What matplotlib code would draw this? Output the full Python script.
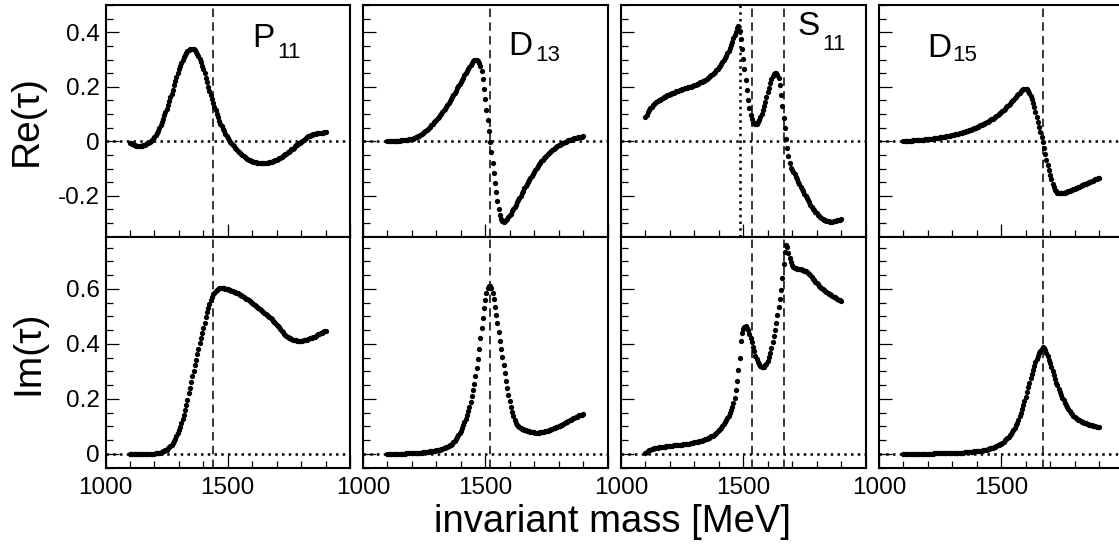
import matplotlib.pyplot as plt
import numpy as np
from matplotlib.ticker import MultipleLocator, FixedLocator, FuncFormatter

plt.rcParams['font.family'] = ['Liberation Sans', 'DejaVu Sans']

# invariant mass grid of the calculation (MeV)
mass = np.arange(1100, 1905, 5)

wave_names = ['P', 'D', 'S', 'D']
wave_subs = ['11', '13', '11', '15']

re_p11 = [
    -0.005, -0.008, -0.011, -0.013, -0.015, -0.017, -0.018, -0.019, -0.019, -0.018,
    -0.017, -0.015, -0.013, -0.011, -0.008, -0.006, -0.003, 0.000, 0.004, 0.009,
    0.015, 0.022, 0.030, 0.039, 0.049, 0.060, 0.071, 0.083, 0.095, 0.107,
    0.120, 0.133, 0.147, 0.161, 0.175, 0.190, 0.205, 0.220, 0.235, 0.250,
    0.264, 0.277, 0.289, 0.300, 0.310, 0.318, 0.325, 0.330, 0.334, 0.337,
    0.338, 0.338, 0.337, 0.334, 0.329, 0.322, 0.313, 0.303, 0.291, 0.278,
    0.264, 0.249, 0.233, 0.217, 0.201, 0.185, 0.169, 0.154, 0.140, 0.126,
    0.113, 0.100, 0.088, 0.076, 0.065, 0.055, 0.045, 0.036, 0.027, 0.019,
    0.011, 0.004, -0.002, -0.008, -0.014, -0.019, -0.024, -0.029, -0.034, -0.038,
    -0.043, -0.047, -0.051, -0.055, -0.058, -0.061, -0.064, -0.067, -0.069, -0.071,
    -0.073, -0.075, -0.076, -0.077, -0.078, -0.079, -0.080, -0.080, -0.080, -0.080,
    -0.080, -0.080, -0.079, -0.078, -0.077, -0.076, -0.075, -0.073, -0.071, -0.069,
    -0.067, -0.065, -0.062, -0.060, -0.057, -0.055, -0.052, -0.048, -0.045, -0.041,
    -0.038, -0.034, -0.030, -0.027, -0.023, -0.019, -0.015, -0.012, -0.008, -0.005,
    -0.001, 0.002, 0.006, 0.009, 0.012, 0.015, 0.018, 0.020, 0.022, 0.024,
    0.026, 0.027, 0.028, 0.029, 0.030, 0.031, 0.031, 0.032, 0.032, 0.033,
    0.033]

im_p11 = [
    0.000, 0.000, 0.000, 0.000, 0.000, 0.000, 0.000, 0.000, 0.000, 0.000,
    0.000, 0.000, 0.000, 0.000, 0.000, 0.000, 0.000, 0.000, 0.001, 0.001,
    0.001, 0.002, 0.002, 0.003, 0.004, 0.005, 0.007, 0.009, 0.011, 0.013,
    0.016, 0.020, 0.024, 0.029, 0.034, 0.039, 0.046, 0.054, 0.064, 0.075,
    0.087, 0.099, 0.112, 0.126, 0.142, 0.159, 0.178, 0.198, 0.220, 0.240,
    0.261, 0.282, 0.303, 0.323, 0.343, 0.363, 0.383, 0.402, 0.421, 0.440,
    0.459, 0.478, 0.497, 0.515, 0.532, 0.547, 0.560, 0.571, 0.580, 0.587,
    0.592, 0.597, 0.600, 0.602, 0.603, 0.603, 0.603, 0.602, 0.601, 0.600,
    0.599, 0.598, 0.596, 0.594, 0.592, 0.590, 0.588, 0.586, 0.584, 0.582,
    0.579, 0.577, 0.574, 0.571, 0.568, 0.565, 0.562, 0.559, 0.556, 0.553,
    0.549, 0.546, 0.542, 0.539, 0.535, 0.532, 0.528, 0.525, 0.521, 0.518,
    0.514, 0.510, 0.506, 0.502, 0.498, 0.494, 0.489, 0.485, 0.480, 0.475,
    0.470, 0.465, 0.460, 0.454, 0.448, 0.443, 0.438, 0.434, 0.430, 0.426,
    0.423, 0.420, 0.418, 0.416, 0.415, 0.414, 0.413, 0.412, 0.412, 0.412,
    0.412, 0.412, 0.413, 0.414, 0.415, 0.416, 0.418, 0.420, 0.421, 0.423,
    0.425, 0.427, 0.430, 0.432, 0.435, 0.437, 0.439, 0.441, 0.443, 0.446,
    0.448]

re_d13 = [
    0.000, 0.000, 0.000, 0.000, 0.001, 0.001, 0.001, 0.002, 0.002, 0.002,
    0.002, 0.003, 0.003, 0.003, 0.004, 0.004, 0.005, 0.006, 0.007, 0.008,
    0.009, 0.010, 0.012, 0.014, 0.016, 0.018, 0.021, 0.024, 0.027, 0.030,
    0.033, 0.037, 0.041, 0.045, 0.049, 0.054, 0.059, 0.064, 0.069, 0.074,
    0.079, 0.084, 0.089, 0.095, 0.101, 0.107, 0.113, 0.120, 0.127, 0.134,
    0.141, 0.148, 0.155, 0.162, 0.170, 0.178, 0.186, 0.194, 0.202, 0.210,
    0.218, 0.226, 0.234, 0.242, 0.250, 0.258, 0.266, 0.274, 0.281, 0.288,
    0.293, 0.298, 0.300, 0.299, 0.295, 0.287, 0.275, 0.257, 0.228, 0.193,
    0.155, 0.116, 0.077, 0.038, -0.001, -0.040, -0.079, -0.116, -0.152, -0.186,
    -0.218, -0.247, -0.270, -0.286, -0.294, -0.296, -0.294, -0.290, -0.285, -0.279,
    -0.272, -0.265, -0.257, -0.249, -0.241, -0.232, -0.224, -0.216, -0.207, -0.199,
    -0.190, -0.182, -0.173, -0.165, -0.157, -0.149, -0.141, -0.134, -0.126, -0.119,
    -0.112, -0.105, -0.098, -0.092, -0.085, -0.079, -0.073, -0.068, -0.063, -0.058,
    -0.053, -0.048, -0.044, -0.040, -0.036, -0.032, -0.028, -0.025, -0.021, -0.018,
    -0.015, -0.012, -0.010, -0.007, -0.005, -0.003, -0.001, 0.001, 0.003, 0.005,
    0.006, 0.008, 0.009, 0.011, 0.012, 0.013, 0.014, 0.015, 0.016, 0.017,
    0.018]

im_d13 = [
    0.000, 0.000, 0.000, 0.000, 0.000, 0.000, 0.000, 0.000, 0.001, 0.001,
    0.001, 0.001, 0.001, 0.001, 0.001, 0.002, 0.002, 0.002, 0.002, 0.002,
    0.003, 0.003, 0.003, 0.003, 0.004, 0.004, 0.004, 0.005, 0.005, 0.006,
    0.006, 0.007, 0.007, 0.008, 0.008, 0.009, 0.010, 0.010, 0.011, 0.012,
    0.013, 0.014, 0.015, 0.016, 0.017, 0.018, 0.020, 0.022, 0.024, 0.026,
    0.028, 0.031, 0.034, 0.038, 0.042, 0.047, 0.053, 0.060, 0.068, 0.077,
    0.085, 0.094, 0.104, 0.115, 0.127, 0.140, 0.155, 0.172, 0.190, 0.210,
    0.232, 0.256, 0.283, 0.313, 0.346, 0.382, 0.420, 0.458, 0.495, 0.530,
    0.561, 0.587, 0.603, 0.611, 0.611, 0.602, 0.585, 0.563, 0.536, 0.506,
    0.475, 0.443, 0.412, 0.381, 0.351, 0.322, 0.294, 0.267, 0.241, 0.216,
    0.193, 0.172, 0.153, 0.137, 0.124, 0.114, 0.107, 0.101, 0.097, 0.094,
    0.092, 0.090, 0.088, 0.086, 0.084, 0.083, 0.082, 0.081, 0.080, 0.079,
    0.079, 0.078, 0.078, 0.078, 0.078, 0.079, 0.079, 0.080, 0.081, 0.082,
    0.083, 0.084, 0.086, 0.087, 0.089, 0.091, 0.093, 0.095, 0.097, 0.099,
    0.101, 0.103, 0.105, 0.107, 0.110, 0.112, 0.115, 0.117, 0.120, 0.122,
    0.125, 0.127, 0.130, 0.132, 0.134, 0.136, 0.138, 0.140, 0.141, 0.143,
    0.144]

re_s11 = [
    0.088, 0.097, 0.106, 0.114, 0.121, 0.127, 0.132, 0.136, 0.140, 0.143,
    0.147, 0.150, 0.153, 0.156, 0.159, 0.162, 0.164, 0.167, 0.169, 0.171,
    0.173, 0.175, 0.177, 0.179, 0.181, 0.183, 0.184, 0.186, 0.188, 0.189,
    0.191, 0.192, 0.194, 0.195, 0.197, 0.198, 0.200, 0.201, 0.203, 0.204,
    0.206, 0.208, 0.210, 0.212, 0.214, 0.216, 0.218, 0.221, 0.223, 0.226,
    0.229, 0.232, 0.235, 0.238, 0.242, 0.246, 0.250, 0.255, 0.260, 0.265,
    0.271, 0.277, 0.283, 0.290, 0.297, 0.305, 0.314, 0.323, 0.333, 0.343,
    0.354, 0.366, 0.378, 0.390, 0.402, 0.414, 0.424, 0.405, 0.375, 0.340,
    0.303, 0.265, 0.226, 0.188, 0.152, 0.121, 0.097, 0.080, 0.070, 0.066,
    0.064, 0.065, 0.070, 0.078, 0.088, 0.100, 0.113, 0.128, 0.145, 0.162,
    0.180, 0.197, 0.213, 0.227, 0.238, 0.246, 0.250, 0.250, 0.245, 0.232,
    0.205, 0.168, 0.128, 0.087, 0.047, 0.010, -0.025, -0.055, -0.080, -0.098,
    -0.105, -0.113, -0.121, -0.130, -0.139, -0.148, -0.157, -0.166, -0.175, -0.184,
    -0.192, -0.200, -0.208, -0.216, -0.224, -0.232, -0.240, -0.247, -0.253, -0.259,
    -0.264, -0.269, -0.273, -0.277, -0.281, -0.284, -0.287, -0.289, -0.291, -0.293,
    -0.294, -0.295, -0.295, -0.295, -0.294, -0.293, -0.292, -0.290, -0.289, -0.287,
    -0.286]

im_s11 = [
    0.003, 0.007, 0.010, 0.013, 0.015, 0.017, 0.019, 0.020, 0.021, 0.022,
    0.023, 0.024, 0.025, 0.026, 0.026, 0.027, 0.027, 0.028, 0.028, 0.029,
    0.029, 0.030, 0.030, 0.031, 0.031, 0.032, 0.032, 0.033, 0.033, 0.034,
    0.034, 0.035, 0.036, 0.036, 0.037, 0.038, 0.038, 0.039, 0.040, 0.041,
    0.042, 0.043, 0.044, 0.045, 0.046, 0.047, 0.048, 0.050, 0.051, 0.053,
    0.055, 0.057, 0.059, 0.061, 0.064, 0.067, 0.070, 0.074, 0.078, 0.082,
    0.086, 0.091, 0.096, 0.102, 0.108, 0.115, 0.122, 0.129, 0.138, 0.148,
    0.160, 0.172, 0.186, 0.205, 0.232, 0.264, 0.304, 0.350, 0.410, 0.440,
    0.456, 0.463, 0.464, 0.459, 0.450, 0.438, 0.423, 0.406, 0.389, 0.373,
    0.358, 0.345, 0.335, 0.327, 0.321, 0.318, 0.317, 0.318, 0.322, 0.328,
    0.338, 0.351, 0.367, 0.386, 0.406, 0.428, 0.452, 0.478, 0.505, 0.534,
    0.565, 0.598, 0.640, 0.690, 0.735, 0.760, 0.752, 0.732, 0.712, 0.698,
    0.688, 0.681, 0.677, 0.675, 0.674, 0.673, 0.672, 0.671, 0.670, 0.669,
    0.667, 0.665, 0.663, 0.659, 0.654, 0.649, 0.643, 0.637, 0.632, 0.627,
    0.622, 0.617, 0.612, 0.608, 0.604, 0.600, 0.596, 0.592, 0.589, 0.586,
    0.583, 0.580, 0.577, 0.574, 0.571, 0.569, 0.566, 0.564, 0.561, 0.559,
    0.557]

re_d15 = [
    0.000, 0.000, 0.001, 0.001, 0.001, 0.002, 0.002, 0.002, 0.003, 0.003,
    0.003, 0.004, 0.004, 0.004, 0.005, 0.005, 0.006, 0.006, 0.007, 0.007,
    0.008, 0.008, 0.009, 0.009, 0.010, 0.011, 0.011, 0.012, 0.013, 0.013,
    0.014, 0.015, 0.016, 0.016, 0.017, 0.018, 0.019, 0.020, 0.021, 0.022,
    0.023, 0.024, 0.025, 0.026, 0.027, 0.028, 0.029, 0.031, 0.032, 0.033,
    0.035, 0.036, 0.038, 0.039, 0.041, 0.043, 0.044, 0.046, 0.048, 0.050,
    0.052, 0.054, 0.056, 0.058, 0.060, 0.062, 0.064, 0.067, 0.069, 0.072,
    0.074, 0.077, 0.080, 0.083, 0.086, 0.089, 0.093, 0.096, 0.100, 0.104,
    0.108, 0.112, 0.116, 0.120, 0.124, 0.129, 0.133, 0.138, 0.143, 0.148,
    0.153, 0.158, 0.163, 0.168, 0.173, 0.178, 0.183, 0.187, 0.191, 0.193,
    0.193, 0.191, 0.186, 0.178, 0.167, 0.154, 0.140, 0.125, 0.108, 0.090,
    0.072, 0.054, 0.035, 0.016, -0.003, -0.025, -0.046, -0.067, -0.087, -0.106,
    -0.124, -0.140, -0.155, -0.167, -0.177, -0.184, -0.188, -0.190, -0.191, -0.191,
    -0.190, -0.189, -0.188, -0.186, -0.185, -0.183, -0.181, -0.180, -0.178, -0.176,
    -0.174, -0.172, -0.170, -0.168, -0.166, -0.164, -0.162, -0.160, -0.158, -0.156,
    -0.154, -0.152, -0.150, -0.148, -0.146, -0.144, -0.142, -0.140, -0.138, -0.136,
    -0.134]

im_d15 = [
    0.000, 0.000, 0.000, 0.000, 0.000, 0.000, 0.000, 0.000, 0.000, 0.000,
    0.000, 0.000, 0.000, 0.000, 0.000, 0.000, 0.001, 0.001, 0.001, 0.001,
    0.001, 0.001, 0.001, 0.001, 0.001, 0.002, 0.002, 0.002, 0.002, 0.002,
    0.002, 0.002, 0.002, 0.002, 0.002, 0.003, 0.003, 0.003, 0.003, 0.003,
    0.003, 0.003, 0.004, 0.004, 0.004, 0.004, 0.005, 0.005, 0.005, 0.005,
    0.006, 0.006, 0.006, 0.007, 0.007, 0.007, 0.008, 0.008, 0.009, 0.009,
    0.010, 0.010, 0.011, 0.011, 0.012, 0.013, 0.014, 0.015, 0.016, 0.017,
    0.019, 0.020, 0.022, 0.023, 0.025, 0.027, 0.029, 0.031, 0.033, 0.035,
    0.038, 0.041, 0.045, 0.049, 0.053, 0.058, 0.063, 0.068, 0.074, 0.080,
    0.087, 0.095, 0.104, 0.114, 0.125, 0.137, 0.150, 0.163, 0.177, 0.192,
    0.208, 0.225, 0.242, 0.259, 0.275, 0.291, 0.306, 0.320, 0.333, 0.345,
    0.356, 0.366, 0.375, 0.383, 0.388, 0.386, 0.378, 0.367, 0.355, 0.342,
    0.330, 0.316, 0.302, 0.287, 0.273, 0.259, 0.249, 0.238, 0.227, 0.216,
    0.205, 0.195, 0.186, 0.178, 0.170, 0.163, 0.156, 0.150, 0.144, 0.139,
    0.135, 0.131, 0.128, 0.125, 0.122, 0.119, 0.117, 0.115, 0.113, 0.111,
    0.109, 0.108, 0.106, 0.105, 0.104, 0.102, 0.101, 0.100, 0.099, 0.098,
    0.098]

re_all = [re_p11, re_d13, re_s11, re_d15]
im_all = [im_p11, im_d13, im_s11, im_d15]

# resonance masses (dashed lines) and eta N threshold (dotted, S11 only)
res_masses = [[1440], [1520], [1535, 1668], [1672]]
eta_threshold = 1485

# label positions in pixels: (x, baseline) of letter and of subscript
lab_main = [(252, 47), (508, 55), (797, 35), (927, 57)]
lab_sub = [(277, 58), (535, 61), (822, 50), (952, 61)]

W, H = 1119, 544
fig = plt.figure(figsize=(W / 100, H / 100), dpi=100)

lefts = [105.5, 363, 621, 879]
pw = 244.5
rows = [(5, 231.7), (236.7, 231)]


def fmt_y(v, pos):
    if abs(v) < 1e-9:
        return '0'
    return '{:.1f}'.format(v)


def fmt_x(v, pos):
    if v > 1900:
        return ''
    return '{:.0f}'.format(v)


dotted = (0, (1, 1.7))
dashed = (0, (5.5, 3.5))

for r, (top, h) in enumerate(rows):
    for c in range(4):
        ax = fig.add_axes([lefts[c] / W, 1 - (top + h) / H, pw / W, h / H])
        data = re_all[c] if r == 0 else im_all[c]
        ax.plot(mass, data, 'o', ms=3.8, mew=0, color='black', zorder=4)
        ax.axhline(0, color='black', lw=1.8, ls=dotted, zorder=2)
        for m in res_masses[c]:
            ax.axvline(m, color='black', lw=1.1, ls=dashed, zorder=2)
        if r == 0 and c == 2:
            ax.axvline(eta_threshold, color='black', lw=1.8, ls=dotted, zorder=2)

        ax.set_xlim(1000, 2000)
        if r == 0:
            ax.set_ylim(-0.35, 0.5)
        else:
            ax.set_ylim(-0.05, 0.79)
        ax.xaxis.set_major_locator(FixedLocator([1000, 1500, 2000]))
        ax.xaxis.set_minor_locator(MultipleLocator(100))
        ax.yaxis.set_major_locator(MultipleLocator(0.2))
        ax.yaxis.set_minor_locator(MultipleLocator(0.05))
        ax.xaxis.set_major_formatter(FuncFormatter(fmt_x))
        ax.yaxis.set_major_formatter(FuncFormatter(fmt_y))
        ax.tick_params(which='both', direction='in', top=False, right=False,
                       width=0.9, labelsize=17.5)
        ax.tick_params(which='major', length=9.5)
        ax.tick_params(which='minor', length=5)
        ax.tick_params(axis='x', pad=7)
        ax.tick_params(axis='y', pad=4)
        ax.tick_params(labelbottom=(r == 1), labelleft=(c == 0))
        for sp in ax.spines.values():
            sp.set_linewidth(1.5)

for c in range(4):
    x0, y0 = lab_main[c]
    x1, y1 = lab_sub[c]
    fig.text(x0 / W, 1 - y0 / H, wave_names[c], fontsize=24, va='baseline')
    fig.text(x1 / W, 1 - y1 / H, wave_subs[c], fontsize=16, va='baseline')

fig.text(27 / W, 1 - 121 / H, 'Re(\u03c4)', fontsize=28, rotation=90,
         ha='center', va='center')
fig.text(28 / W, 1 - 353 / H, 'Im(\u03c4)', fontsize=28, rotation=90,
         ha='center', va='center')
fig.text(613 / W, 1 - 532 / H, 'invariant mass [MeV]', fontsize=27.5,
         ha='center', va='baseline')

fig.savefig('out.png', dpi=100)
